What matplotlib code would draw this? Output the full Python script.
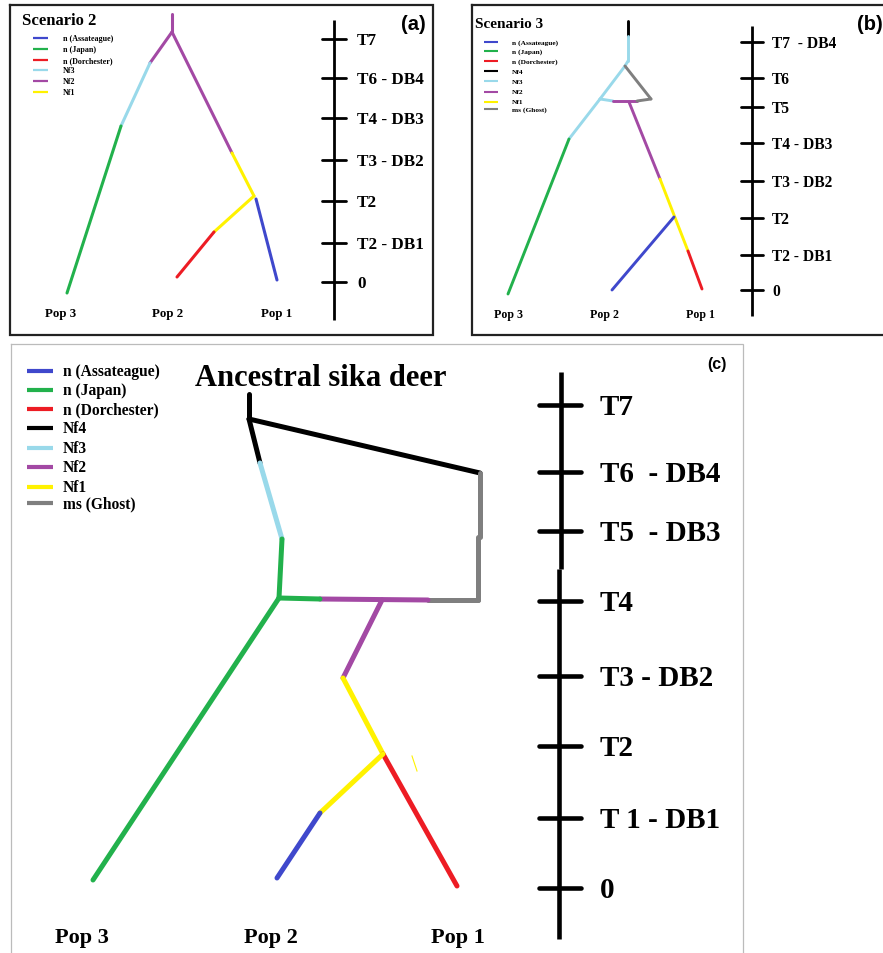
import matplotlib
matplotlib.use("Agg")
import matplotlib.pyplot as plt

# legend keys -> paint colours
LEGEND_KEYS = ["n (Assateague)", "n (Japan)", "n (Dorchester)", "Nf4", "Nf3", "Nf2", "Nf1", "ms (Ghost)"]
COLOURS = {
    "n (Assateague)": "#3f48cc",
    "n (Japan)": "#22b14c",
    "n (Dorchester)": "#ed1c24",
    "Nf4": "#000000",
    "Nf3": "#99d9ea",
    "Nf2": "#a349a4",
    "Nf1": "#fff200",
    "ms (Ghost)": "#7f7f7f",
}
POPS = ["Pop 3", "Pop 2", "Pop 1"]

# ---- panel (a): Scenario 2 ----
A_KEYS = ["n (Assateague)", "n (Japan)", "n (Dorchester)", "Nf3", "Nf2", "Nf1"]
A_TIMES = ["T7", "T6 - DB4", "T4 - DB3", "T3 - DB2", "T2", "T2 - DB1", "0"]
A_TICK_Y = [40, 79, 119, 161, 202, 244, 283]
A_POP_X = [61, 168, 277]
A_SEGMENTS = [
    ("Nf2", [172, 172], [15, 33]),
    ("Nf2", [172, 150], [33, 64]),
    ("Nf3", [150, 121], [64, 127]),
    ("n (Japan)", [121, 67], [127, 294]),
    ("Nf2", [172, 232], [33, 154]),
    ("Nf1", [232, 254], [154, 197]),
    ("Nf1", [254, 214], [197, 233]),
    ("n (Dorchester)", [214, 177], [233, 278]),
    ("n (Assateague)", [256, 277], [200, 281]),
]

# ---- panel (b): Scenario 3 ----
B_KEYS = LEGEND_KEYS
B_TIMES = ["T7  - DB4", "T6", "T5", "T4 - DB3", "T3 - DB2", "T2", "T2 - DB1", "0"]
B_TICK_Y = [43, 79, 108, 144, 182, 219, 256, 291]
B_POP_X = [508, 604, 700]
B_SEGMENTS = [
    ("Nf4", [628, 628], [22, 37]),
    ("Nf3", [628, 628], [37, 62]),
    ("Nf3", [628, 625], [62, 67]),
    ("Nf3", [625, 600], [67, 100]),
    ("Nf3", [600, 569], [100, 140]),
    ("n (Japan)", [569, 508], [140, 295]),
    ("ms (Ghost)", [625, 651], [67, 100]),
    ("Nf3", [600, 613], [100, 102]),
    ("Nf2", [613, 637], [102, 102]),
    ("ms (Ghost)", [637, 651], [102, 100]),
    ("Nf2", [629, 660], [103, 180]),
    ("Nf1", [660, 688], [180, 252]),
    ("n (Dorchester)", [688, 702], [252, 290]),
    ("n (Assateague)", [674, 612], [218, 291]),
]

# ---- panel (c): final model ----
C_KEYS = LEGEND_KEYS
C_TIMES = ["T7", "T6  - DB4", "T5  - DB3", "T4", "T3 - DB2", "T2", "T 1 - DB1", "0"]
C_TICK_Y = [406, 473, 532, 602, 677, 747, 819, 889]
C_POP_X = [82, 271, 458]
C_SEGMENTS = [
    ("Nf4", [249, 249], [395, 420]),
    ("Nf4", [249, 480], [420, 474]),
    ("Nf4", [249, 260], [420, 464]),
    ("Nf3", [260, 282], [464, 540]),
    ("n (Japan)", [282, 279], [540, 599]),
    ("ms (Ghost)", [480, 480], [474, 538]),
    ("ms (Ghost)", [478, 478], [538, 601]),
    ("ms (Ghost)", [478, 428], [601, 601]),
    ("Nf2", [428, 320], [601, 600]),
    ("n (Japan)", [320, 279], [600, 599]),
    ("n (Japan)", [279, 93], [599, 881]),
    ("Nf2", [382, 343], [601, 679]),
    ("Nf1", [343, 383], [679, 755]),
    ("n (Dorchester)", [383, 457], [755, 887]),
    ("Nf1", [383, 320], [755, 814]),
    ("n (Assateague)", [320, 277], [814, 879]),
]

SERIF = "Liberation Serif"
SANS = "Liberation Sans"

fig = plt.figure(figsize=(8.83, 9.54), dpi=100)
ax = fig.add_axes([0, 0, 1, 1])
ax.set_xlim(0, 883)
ax.set_ylim(954, 0)
ax.axis("off")


def draw_box(x0, y0, x1, y1, color, lw):
    ax.plot([x0, x1, x1, x0, x0], [y0, y0, y1, y1, y0], color=color, lw=lw,
            solid_joinstyle="miter", clip_on=False)


def draw_tree(segments, lw):
    for key, xs, ys in segments:
        ax.plot(xs, ys, color=COLOURS[key], lw=lw, solid_capstyle="round")


def draw_legend(keys, x0, x1, xt, rows, lw, fs):
    for key, y in zip(keys, rows):
        ax.plot([x0, x1], [y, y], color=COLOURS[key], lw=lw, solid_capstyle="butt")
        ax.text(xt, y, key, family=SERIF, weight="bold", fontsize=fs, va="center", ha="left")


def draw_timeline(x, ytop, ybot, ticks, labels, tx0, tx1, lx, lw, fs, dy=0):
    ax.plot([x, x], [ytop, ybot], color="black", lw=lw, solid_capstyle="butt")
    for y, lab in zip(ticks, labels):
        ax.plot([tx0, tx1], [y, y], color="black", lw=lw, solid_capstyle="round")
        ax.text(lx, y + dy, lab, family=SERIF, weight="bold", fontsize=fs, va="center", ha="left")


def draw_pops(xs, y, fs):
    for x, lab in zip(xs, POPS):
        ax.text(x, y, lab, family=SERIF, weight="bold", fontsize=fs, ha="center", va="center")


# (a)
draw_box(10, 6, 433, 336, "#222222", 1.6)
ax.text(22, 21, "Scenario 2", family=SERIF, weight="bold", fontsize=12, va="center")
draw_legend(A_KEYS, 33, 48, 63, [39, 50, 61, 71, 82, 93], 1.6, 5.8)
draw_tree(A_SEGMENTS, 2.2)
draw_timeline(334, 21, 321, A_TICK_Y, A_TIMES, 322, 346, 357, 2.0, 12.3, dy=1)
draw_pops(A_POP_X, 314, 9.3)
ax.text(413, 24, "(a)", family=SANS, weight="bold", fontsize=14.5, ha="center", va="center")

# (b)
draw_box(472, 6, 900, 336, "#222222", 1.6)
ax.text(475, 25, "Scenario 3", family=SERIF, weight="bold", fontsize=11, va="center")
draw_legend(B_KEYS, 484, 498, 512, [43, 52, 62, 72, 82, 93, 103, 110], 1.5, 5.3)
draw_tree(B_SEGMENTS, 2.1)
draw_timeline(752, 27, 317, B_TICK_Y, B_TIMES, 741, 763, 772, 2.0, 11.2, dy=1)
draw_pops(B_POP_X, 315, 8.6)
ax.text(857, 25, "(b)", family=SANS, weight="bold", fontsize=14.5, ha="left", va="center")

# (c)
draw_box(11, 345, 743, 1000, "#bbbbbb", 0.9)
ax.text(195, 379, "Ancestral sika deer", family=SERIF, weight="bold", fontsize=22, va="center")
draw_legend(C_KEYS, 27, 53, 63, [372, 391, 410, 429, 449, 468, 488, 504], 3.0, 11.2)
draw_tree(C_SEGMENTS, 3.6)
ax.plot([412, 417], [757, 772], color=COLOURS["Nf1"], lw=0.8)
ax.plot([561, 561], [373, 570], color="black", lw=3.3, solid_capstyle="butt")
draw_timeline(559, 570, 940, C_TICK_Y, C_TIMES, 539, 581, 600, 3.3, 21, dy=2)
draw_pops(C_POP_X, 938, 16)
ax.text(717, 365, "(c)", family=SANS, weight="bold", fontsize=11.5, ha="center", va="center")

fig.savefig("out.png", dpi=100)
